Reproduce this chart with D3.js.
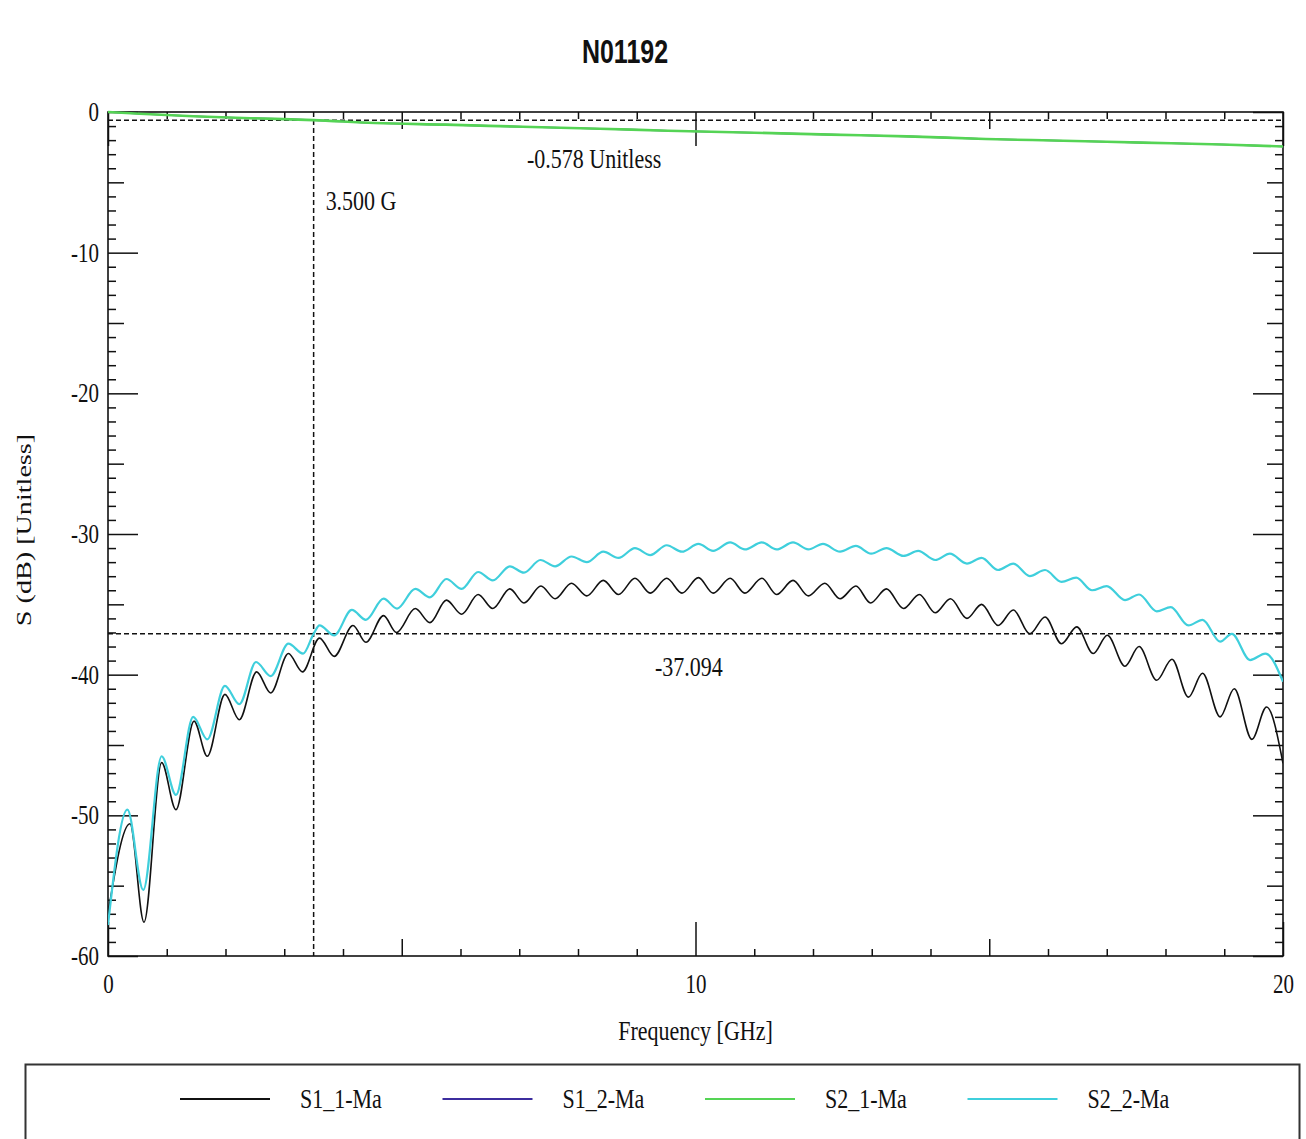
<!DOCTYPE html>
<html>
<head>
<meta charset="utf-8">
<title>N01192</title>
<script src="https://cdn.jsdelivr.net/npm/d3@7"></script>
<style>
  html, body { margin: 0; padding: 0; background: #fff; }
  svg { display: block; }
</style>
</head>
<body>
<svg id="chart" width="1306" height="1139"></svg>
<script>
// ---- data ----
const chartTitle = "N01192";
const seriesNames = ["S1_1-Ma", "S1_2-Ma", "S2_1-Ma", "S2_2-Ma"];

// S1_1 magnitude (dB) vs frequency (GHz)
const freqS11 = [
  0, 0.374, 0.613, 0.913, 1.157, 1.464, 1.69, 1.99, 2.235, 2.53,
  2.77, 3.07, 3.31, 3.60, 3.85, 4.17, 4.39, 4.69, 4.91, 5.23,
  5.48, 5.76, 6.02, 6.30, 6.55, 6.84, 7.08, 7.37, 7.61, 7.89,
  8.15, 8.43, 8.69, 8.97, 9.23, 9.51, 9.77, 10.05, 10.30, 10.59,
  10.84, 11.13, 11.38, 11.66, 11.92, 12.20, 12.46, 12.73, 12.98, 13.25,
  13.54, 13.81, 14.08, 14.34, 14.62, 14.87, 15.15, 15.41, 15.69, 15.95,
  16.23, 16.49, 16.77, 17.01, 17.31, 17.55, 17.85, 18.11, 18.39, 18.63,
  18.93, 19.17, 19.47, 19.72, 20
];
const dbS11 = [
  -57.0, -50.6, -57.6, -46.25, -49.6, -43.3, -45.8, -41.4, -43.2, -39.8,
  -41.3, -38.5, -39.8, -37.4, -38.7, -36.5, -37.7, -35.8, -37.0, -35.3,
  -36.3, -34.7, -35.7, -34.3, -35.3, -33.9, -34.9, -33.7, -34.6, -33.5,
  -34.4, -33.3, -34.3, -33.15, -34.2, -33.15, -34.2, -33.1, -34.2, -33.15,
  -34.2, -33.15, -34.3, -33.3, -34.4, -33.5, -34.6, -33.7, -34.9, -33.9,
  -35.3, -34.3, -35.6, -34.6, -36.0, -35.0, -36.5, -35.4, -37.1, -35.9,
  -37.8, -36.6, -38.5, -37.2, -39.4, -38.0, -40.4, -38.9, -41.6, -39.9,
  -43.0, -41.0, -44.6, -42.3, -46.3
];

// S2_1 (and S1_2, reciprocal) transmission magnitude
const freqS21 = [0, 0.54, 1.45, 2.43, 3.5, 4.54, 5.74, 7.06, 8.37, 9.53, 11.0, 12.3, 13.6, 14.94, 16.26, 17.6, 18.96, 20];
const dbS21 = [0, -0.12, -0.3, -0.44, -0.578, -0.78, -0.9, -1.05, -1.19, -1.33, -1.47, -1.61, -1.73, -1.92, -2.04, -2.18, -2.31, -2.45];
const freqS12 = freqS21.slice();
const dbS12 = dbS21.slice();

// S2_2 magnitude
const freqS22 = [
  0, 0.33, 0.60, 0.913, 1.157, 1.45, 1.69, 1.99, 2.235, 2.52,
  2.77, 3.07, 3.32, 3.5, 3.60, 3.85, 4.15, 4.39, 4.69, 4.92,
  5.23, 5.48, 5.76, 6.02, 6.30, 6.55, 6.84, 7.08, 7.36, 7.61,
  7.89, 8.15, 8.43, 8.69, 8.97, 9.23, 9.51, 9.77, 10.05, 10.30,
  10.59, 10.84, 11.13, 11.38, 11.66, 11.92, 12.17, 12.46, 12.73, 12.99,
  13.25, 13.54, 13.79, 14.08, 14.33, 14.62, 14.87, 15.15, 15.41, 15.69,
  15.95, 16.23, 16.48, 16.75, 17.0, 17.31, 17.55, 17.85, 18.09, 18.39,
  18.63, 18.93, 19.13, 19.44, 19.70, 20
];
const dbS22 = [
  -57.8, -49.6, -55.3, -45.8, -48.55, -43.0, -44.6, -40.8, -42.1, -39.1,
  -40.1, -37.8, -38.5, -37.094, -36.5, -37.2, -35.4, -36.1, -34.6, -35.3,
  -33.9, -34.5, -33.2, -33.9, -32.7, -33.3, -32.3, -32.75, -31.85, -32.3,
  -31.6, -32.0, -31.26, -31.7, -31.0, -31.5, -30.8, -31.26, -30.7, -31.2,
  -30.6, -31.1, -30.6, -31.1, -30.6, -31.1, -30.7, -31.26, -30.85, -31.4,
  -31.0, -31.56, -31.2, -31.85, -31.4, -32.1, -31.7, -32.56, -32.1, -32.99,
  -32.56, -33.4, -33.1, -34.0, -33.7, -34.7, -34.3, -35.5, -35.2, -36.5,
  -36.1, -37.65, -37.1, -38.96, -38.5, -40.5
];

// marker readouts
const markerFreq = 3.5;
const markerLabelFreq = "3.500 G";
const markerLevelS21 = -0.578;
const markerLabelS21 = "-0.578 Unitless";
const markerLevelS22 = -37.094;
const markerLabelS22 = "-37.094";

// axes
const xDomain = [0, 20];
const yDomain = [-60, 0];
const xLabelTicks = [0, 10, 20];
const yLabelTicks = [0, -10, -20, -30, -40, -50, -60];
const xAxisTitle = "Frequency [GHz]";
const yAxisTitle = "S (dB) [Unitless]";

// ---- styles ----
const colors = { s11: "#111111", s12: "#3c2d9e", s21: "#55d455", s22: "#3fcfdc" };
const widths = { s11: 1.6, s12: 1.6, s21: 2.6, s22: 2.2 };
const serifFont = "'Liberation Serif', 'Times New Roman', serif";
const stretch = "scale(1,1.28)";

// ---- layout ----
const plot = { left: 108, right: 1283, top: 112, bottom: 956 };

const svg = d3.select("#chart");
const x = d3.scaleLinear().domain(xDomain).range([plot.left, plot.right]);
const y = d3.scaleLinear().domain(yDomain).range([plot.bottom, plot.top]);

const zip = (fs, vs) => fs.map((f, i) => [f, vs[i]]);
// plain ASCII hyphen for negative tick values
const plainNumber = d => String(d);

// title
svg.append("text")
  .attr("transform", `translate(625,63) scale(1,1.3)`)
  .attr("text-anchor", "middle")
  .attr("font-family", "'Liberation Sans', Arial, sans-serif")
  .attr("font-weight", "bold")
  .attr("font-size", 25)
  .attr("fill", "#111")
  .text(chartTitle);

// tick groups
const xMinor = d3.range(1, 20).filter(v => v % 5 !== 0);
const xMedium = [5, 15];
const yMinor = d3.range(-59, 0).filter(v => v % 5 !== 0);
const yMedium = d3.range(-55, 0, 10);
const yMajor = yLabelTicks;

function addAxis(gen, translate, values, size, labels) {
  const g = svg.append("g")
    .attr("transform", translate)
    .call(gen.tickValues(values).tickSize(-size).tickSizeOuter(0)
      .tickFormat(labels ? plainNumber : ""));
  g.select(".domain").remove();
  g.selectAll(".tick line").attr("stroke", "#111").attr("stroke-width", 1.5);
  if (labels) {
    g.selectAll(".tick text")
      .attr("font-family", serifFont)
      .attr("font-size", 21)
      .attr("fill", "#111")
      .attr("transform", stretch);
  } else {
    g.selectAll(".tick text").remove();
  }
  return g;
}

// left axis (ticks inward, labels outside)
addAxis(d3.axisLeft(y), `translate(${plot.left},0)`, yMinor, 8, false);
addAxis(d3.axisLeft(y), `translate(${plot.left},0)`, yMedium, 16, false);
addAxis(d3.axisLeft(y).tickPadding(9), `translate(${plot.left},0)`, yMajor, 30, true);
// right axis mirror
addAxis(d3.axisRight(y), `translate(${plot.right},0)`, yMinor, 8, false);
addAxis(d3.axisRight(y), `translate(${plot.right},0)`, yMedium, 16, false);
addAxis(d3.axisRight(y), `translate(${plot.right},0)`, yMajor, 30, false);
// bottom axis
addAxis(d3.axisBottom(x), `translate(0,${plot.bottom})`, xMinor, 7, false);
addAxis(d3.axisBottom(x), `translate(0,${plot.bottom})`, xMedium, 17, false);
addAxis(d3.axisBottom(x).tickPadding(14), `translate(0,${plot.bottom})`, xLabelTicks, 34, true);
// top axis mirror
addAxis(d3.axisTop(x), `translate(0,${plot.top})`, xMinor, 7, false);
addAxis(d3.axisTop(x), `translate(0,${plot.top})`, xMedium, 17, false);
addAxis(d3.axisTop(x), `translate(0,${plot.top})`, xLabelTicks, 34, false);

// plot frame
svg.append("rect")
  .attr("x", plot.left).attr("y", plot.top)
  .attr("width", plot.right - plot.left).attr("height", plot.bottom - plot.top)
  .attr("fill", "none").attr("stroke", "#111").attr("stroke-width", 1.6);

// axis titles
svg.append("text")
  .attr("transform", `translate(${(plot.left + plot.right) / 2},1040) ${stretch}`)
  .attr("text-anchor", "middle")
  .attr("font-family", serifFont).attr("font-size", 22).attr("fill", "#111")
  .text(xAxisTitle);
svg.append("text")
  .attr("transform", `translate(31,530) ${stretch} rotate(-90)`)
  .attr("text-anchor", "middle")
  .attr("font-family", serifFont).attr("font-size", 22).attr("fill", "#111")
  .text(yAxisTitle);

// clip for the traces
svg.append("clipPath").attr("id", "plot-clip")
  .append("rect")
  .attr("x", plot.left).attr("y", plot.top - 2)
  .attr("width", plot.right - plot.left).attr("height", plot.bottom - plot.top + 2);

// marker guide lines
const guides = svg.append("g")
  .attr("stroke", "#111").attr("stroke-width", 1.5).attr("stroke-dasharray", "5,3").attr("fill", "none");
guides.append("line")
  .attr("x1", x(markerFreq)).attr("x2", x(markerFreq))
  .attr("y1", y(yDomain[1])).attr("y2", y(yDomain[0]));
[markerLevelS21, markerLevelS22].forEach(v => {
  guides.append("line")
    .attr("x1", x(xDomain[0])).attr("x2", x(xDomain[1]))
    .attr("y1", y(v)).attr("y2", y(v));
});

// traces
const line = d3.line().x(d => x(d[0])).y(d => y(d[1])).curve(d3.curveMonotoneX);
const traces = [
  { key: "s12", data: zip(freqS12, dbS12) },
  { key: "s21", data: zip(freqS21, dbS21) },
  { key: "s11", data: zip(freqS11, dbS11) },
  { key: "s22", data: zip(freqS22, dbS22) }
];
const traceG = svg.append("g").attr("clip-path", "url(#plot-clip)");
traces.forEach(t => {
  traceG.append("path")
    .datum(t.data)
    .attr("d", line)
    .attr("fill", "none")
    .attr("stroke", colors[t.key])
    .attr("stroke-width", widths[t.key])
    .attr("stroke-linejoin", "round");
});

// marker readout labels
const readouts = [
  { text: markerLabelFreq, x: x(markerFreq) + 12, y: 210 },
  { text: markerLabelS21, x: 527, y: 168 },
  { text: markerLabelS22, x: 655, y: 676 }
];
readouts.forEach(r => {
  svg.append("text")
    .attr("transform", `translate(${r.x},${r.y}) ${stretch}`)
    .attr("font-family", serifFont).attr("font-size", 22).attr("fill", "#111")
    .text(r.text);
});

// legend
svg.append("rect")
  .attr("x", 25.5).attr("y", 1064.5).attr("width", 1274).attr("height", 120)
  .attr("fill", "#fff").attr("stroke", "#333").attr("stroke-width", 2);
const legendKeys = ["s11", "s12", "s21", "s22"];
const legendX = d3.scalePoint().domain(seriesNames).range([180, 967.5]);
seriesNames.forEach((name, i) => {
  const x0 = legendX(name);
  const g = svg.append("g").attr("transform", `translate(${x0},1099)`);
  g.append("line")
    .attr("x1", 0).attr("x2", 90).attr("y1", 0).attr("y2", 0)
    .attr("stroke", colors[legendKeys[i]]).attr("stroke-width", 2.2);
  g.append("text")
    .attr("transform", `translate(120,9) ${stretch}`)
    .attr("font-family", serifFont).attr("font-size", 22).attr("fill", "#111")
    .text(name);
});
</script>
</body>
</html>
